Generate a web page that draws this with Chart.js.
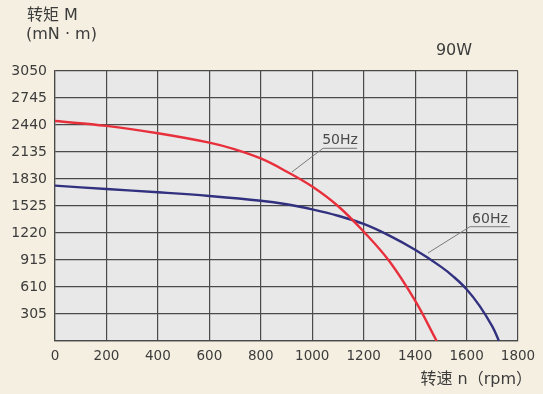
<!DOCTYPE html>
<html>
<head>
<meta charset="utf-8">
<script src="https://cdn.jsdelivr.net/npm/chart.js@4/dist/chart.umd.min.js"></script>
<style>
html,body{margin:0;padding:0;background:#f4efe0;}
#wrap{width:543px;height:394px;position:relative;}
</style>
</head>
<body>
<div id="wrap"><canvas id="c" width="543" height="394"></canvas></div>
<script>
// Data
const speed50 = [0, 200, 400, 600, 700, 800, 900, 1000, 1100, 1200, 1300, 1400, 1484];
const torque50 = [2485, 2430, 2347, 2241, 2165, 2062, 1915, 1745, 1525, 1235, 900, 455, 0];
const speed60 = [0, 200, 400, 600, 800, 900, 1000, 1100, 1200, 1300, 1400, 1500, 1550, 1600, 1650, 1700, 1726];
const torque60 = [1755, 1717, 1680, 1638, 1585, 1545, 1487, 1415, 1322, 1190, 1030, 840, 725, 585, 400, 165, 0];
const xTicks = [0, 200, 400, 600, 800, 1000, 1200, 1400, 1600, 1800];
const yTicks = [305, 610, 915, 1220, 1525, 1830, 2135, 2440, 2745, 3050];
const seriesNames = ['50Hz', '60Hz'];
// label callouts: [leader start x, y, underline start x, y, underline end x]
const callout50 = [921, 1909, 1042, 2177, 1174];
const callout60 = [1450, 994, 1613, 1291, 1769];
const titleText = '90W';
const yTitle1 = '转矩 M';
const yTitle2 = '(mN · m)';
const xTitle = '转速 n（rpm）';

const toPts = (xs, ys) => xs.map((x, i) => ({x: x, y: ys[i]}));
const FONT = "'DejaVu Sans', 'Noto Sans CJK SC', sans-serif";
const TXT = '#3c3c3c';

const bgPlugin = {
  id: 'bg',
  beforeDraw(chart) {
    const {ctx, chartArea: a} = chart;
    ctx.save();
    ctx.fillStyle = '#f4efe0';
    ctx.fillRect(0, 0, chart.width, chart.height);
    ctx.fillStyle = '#e8e8e8';
    ctx.fillRect(a.left, a.top, a.right - a.left, a.bottom - a.top);
    ctx.restore();
  }
};

const textPlugin = {
  id: 'texts',
  afterDraw(chart) {
    const {ctx, scales: {x, y}} = chart;
    ctx.save();
    ctx.fillStyle = TXT;
    ctx.textBaseline = 'middle';
    ctx.font = "16px " + FONT;
    ctx.textAlign = 'left';
    ctx.fillText(yTitle1, 27, 16);
    ctx.fillText(yTitle2, 26, 35);
    ctx.textAlign = 'center';
    ctx.fillText(titleText, 454, 51);
    ctx.textAlign = 'right';
    ctx.fillText(xTitle, 532, 380);
    const drawCallout = (c, label) => {
      const x0 = x.getPixelForValue(c[0]), y0 = y.getPixelForValue(c[1]);
      const x1 = x.getPixelForValue(c[2]), y1 = y.getPixelForValue(c[3]);
      const x2 = x.getPixelForValue(c[4]);
      ctx.strokeStyle = '#7a7a7a';
      ctx.lineWidth = 1;
      ctx.beginPath();
      ctx.moveTo(x0, y0);
      ctx.lineTo(x1, y1);
      ctx.lineTo(x2, y1);
      ctx.stroke();
      ctx.fillStyle = '#4a4a4a';
      ctx.font = "14px " + FONT;
      ctx.textAlign = 'center';
      ctx.textBaseline = 'alphabetic';
      ctx.fillText(label, (x1 + x2) / 2, y1 - 4);
    };
    drawCallout(callout50, seriesNames[0]);
    drawCallout(callout60, seriesNames[1]);
    ctx.restore();
  }
};

new Chart(document.getElementById('c'), {
  type: 'line',
  data: {
    datasets: [
      {label: seriesNames[0], data: toPts(speed50, torque50), borderColor: '#e8303c', borderWidth: 2.4, pointRadius: 0, tension: 0.4, fill: false},
      {label: seriesNames[1], data: toPts(speed60, torque60), borderColor: '#32317f', borderWidth: 2.4, pointRadius: 0, tension: 0.4, fill: false}
    ]
  },
  options: {
    responsive: false,
    animation: false,
    devicePixelRatio: 1,
    layout: {padding: {left: 0, right: 25, top: 71, bottom: 0}},
    plugins: {legend: {display: false}, tooltip: {enabled: false}},
    scales: {
      x: {
        type: 'linear', min: 0, max: 1800,
        afterBuildTicks(s) { s.ticks = xTicks.map(v => ({value: v})); },
        afterFit(s) { s.height = 53; },
        grid: {color: '#4a4a4a', lineWidth: 1.2, drawTicks: false},
        border: {color: '#4a4a4a', width: 1.2},
        ticks: {color: TXT, font: {family: FONT, size: 13.5}, padding: 7, maxRotation: 0, autoSkip: false,
          callback: v => String(v)}
      },
      y: {
        type: 'linear', min: 0, max: 3050,
        afterBuildTicks(s) { s.ticks = [0].concat(yTicks).map(v => ({value: v})); },
        afterFit(s) { s.width = 55; },
        grid: {color: '#4a4a4a', lineWidth: 1.2, drawTicks: false},
        border: {color: '#4a4a4a', width: 1.2},
        ticks: {color: TXT, font: {family: FONT, size: 14}, padding: 8, autoSkip: false,
          callback: v => (v === 0 ? '' : String(v))}
      }
    }
  },
  plugins: [bgPlugin, textPlugin]
});
</script>
</body>
</html>
